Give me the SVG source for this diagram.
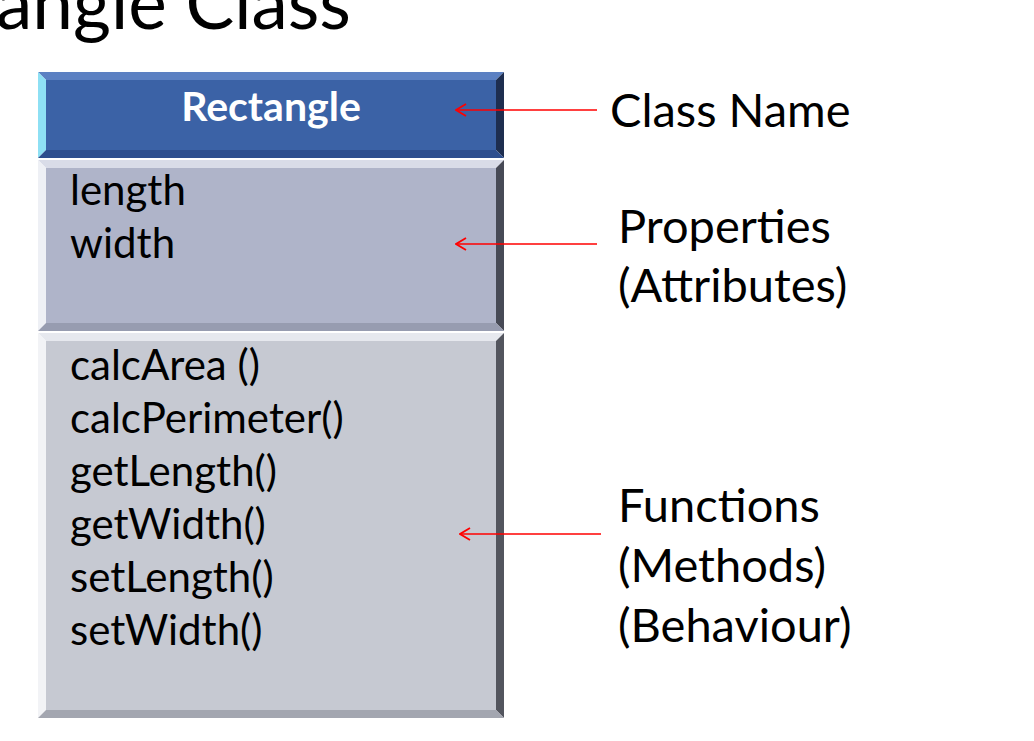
<svg xmlns="http://www.w3.org/2000/svg" width="1034" height="741" viewBox="0 0 1034 741">
  <defs>
    <style>
      .txt { font-family: Lato, "Open Sans", "Liberation Sans", sans-serif; fill: #000; }
      .member { font-size: 42px; }
      .label { font-size: 47px; }
      .title { font-size: 73px; }
      .head { font-family: Lato, "Open Sans", "Liberation Sans", sans-serif; font-size: 41px; font-weight: bold; fill: #fff; }
      .link { stroke: #ff0000; stroke-width: 1.6; fill: none; }
    </style>
    <marker id="arrow" viewBox="0 0 12 14" refX="11" refY="7" markerWidth="12" markerHeight="14" markerUnits="userSpaceOnUse" orient="auto">
      <path d="M1 1 L11 7 L1 13" fill="none" stroke="#ff0000" stroke-width="1.8"/>
    </marker>
  </defs>

  <rect width="1034" height="741" fill="#ffffff"/>

  <!-- slide heading, running off the left edge -->
  <text class="txt title" x="-4" y="29">angle Class</text>

  <!-- class header compartment -->
  <g id="class-name">
    <polygon points="38,72 504,72 496,80 46,80" fill="#5b80c2"/>
    <polygon points="38,72 46,80 46,150 38,158" fill="#8ee0f4"/>
    <polygon points="504,72 504,158 496,150 496,80" fill="#1e2e50"/>
    <polygon points="38,158 46,150 496,150 504,158" fill="#2d4e8e"/>
    <rect x="46" y="80" width="450" height="70" fill="#3b62a6"/>
    <text class="head" x="271" y="121" text-anchor="middle">Rectangle</text>
  </g>

  <!-- attributes compartment -->
  <g id="properties">
    <polygon points="38,160 504,160 496,168 46,168" fill="#d9dce8"/>
    <polygon points="38,160 46,168 46,323 38,331" fill="#eef0f5"/>
    <polygon points="504,160 504,331 496,323 496,168" fill="#474a56"/>
    <polygon points="38,331 46,323 496,323 504,331" fill="#979cb0"/>
    <rect x="46" y="168" width="450" height="155" fill="#afb4c9"/>
    <text class="txt member" x="70" y="205">length</text>
    <text class="txt member" x="70" y="258">width</text>
  </g>

  <!-- methods compartment -->
  <g id="methods">
    <polygon points="38,333 504,333 496,341 46,341" fill="#e6e8ee"/>
    <polygon points="38,333 46,341 46,710 38,718" fill="#f2f3f6"/>
    <polygon points="504,333 504,718 496,710 496,341" fill="#53555e"/>
    <polygon points="38,718 46,710 496,710 504,718" fill="#a3a6b0"/>
    <rect x="46" y="341" width="450" height="369" fill="#c6c9d2"/>
    <text class="txt member" x="70" y="380">calcArea ()</text>
    <text class="txt member" x="70" y="433">calcPerimeter()</text>
    <text class="txt member" x="70" y="486">getLength()</text>
    <text class="txt member" x="70" y="539">getWidth()</text>
    <text class="txt member" x="70" y="592">setLength()</text>
    <text class="txt member" x="70" y="645">setWidth()</text>
  </g>

  <!-- callout labels -->
  <g id="label-class-name">
    <text class="txt label" x="610" y="127">Class Name</text>
  </g>
  <g id="label-properties">
    <text class="txt label" x="618" y="243">Properties</text>
    <text class="txt label" x="618" y="302">(Attributes)</text>
  </g>
  <g id="label-functions">
    <text class="txt label" x="618" y="522">Functions</text>
    <text class="txt label" x="618" y="582">(Methods)</text>
    <text class="txt label" x="618" y="642">(Behaviour)</text>
  </g>

  <!-- pointer arrows -->
  <g id="connectors">
    <line class="link" x1="597" y1="110" x2="456" y2="110" marker-end="url(#arrow)"/>
    <line class="link" x1="597" y1="244" x2="456" y2="244" marker-end="url(#arrow)"/>
    <line class="link" x1="601" y1="534" x2="460" y2="534" marker-end="url(#arrow)"/>
  </g>
</svg>
